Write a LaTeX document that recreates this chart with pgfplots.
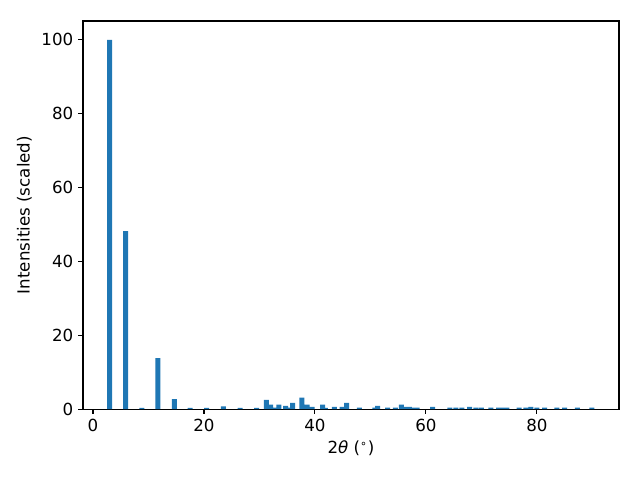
\documentclass[border=0pt]{standalone}
\usepackage{pgfplots}
\pgfplotsset{compat=1.18}
\usepackage{fontspec}
\setmainfont{DejaVu Sans}
\definecolor{tabblue}{HTML}{1F77B4}
\begin{document}
\begin{tikzpicture}
\path[use as bounding box] (-59.76pt,-51.12pt) rectangle (401.02pt,294.52pt);
\begin{axis}[
  at={(0,0)}, anchor=south west,
  scale only axis, width=385.9pt, height=279.4pt,
  xmin=-1.8, xmax=94.8, ymin=0, ymax=105.1,
  xtick={0,20,40,60,80}, ytick={0,20,40,60,80,100},
  tick align=outside, tick pos=left,
  major tick length=3.5pt,
  every tick/.style={black, line width=0.8pt},
  axis line style={line width=0.8pt},
  /pgf/number format/assume math mode=true,
  tick label style={font=\fontsize{12}{14}\selectfont},
  label style={font=\fontsize{12}{14}\selectfont},
  xlabel={2\textit{θ} (\textsuperscript{∘})},
  ylabel={Intensities (scaled)},
  ybar, bar width=0.9, bar shift=0pt,
]
\addplot[fill=tabblue, draw=none] coordinates {
(3.0,100) (5.86,48.2) (8.8,0.3) (11.7,13.8) (14.65,2.7) (17.5,0.3)
(20.5,0.3) (23.5,0.7) (26.5,0.3) (29.5,0.35) (31.25,2.5) (32.0,1.2)
(32.6,0.4) (33.5,1.2) (34.7,0.9) (35.4,0.4) (36.0,1.7) (37.66,3.1)
(38.6,1.2) (39.5,0.6) (41.4,1.2) (41.9,0.3) (43.5,0.6) (44.9,0.6)
(45.7,1.7) (48.0,0.36) (50.8,0.36) (51.3,0.9) (53.1,0.36) (54.5,0.36)
(55.6,1.2) (56.3,0.6) (57.0,0.6) (57.9,0.36) (58.4,0.36) (61.2,0.6)
(64.3,0.36) (65.4,0.36) (66.5,0.36) (67.9,0.6) (69.0,0.36) (70.0,0.36)
(71.7,0.36) (73.1,0.36) (74.0,0.36) (74.6,0.36) (76.8,0.36) (78.0,0.36)
(78.9,0.6) (80.0,0.36) (81.4,0.36) (83.6,0.36) (85.0,0.36) (87.3,0.36)
(89.9,0.36)
};
\end{axis}
\end{tikzpicture}
\end{document}
